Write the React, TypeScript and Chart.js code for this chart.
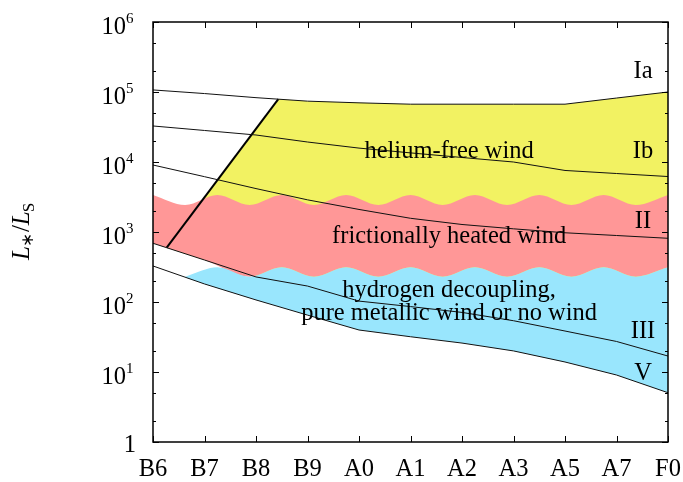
import { useEffect, useRef } from 'react';
import { Chart, registerables } from 'chart.js';

Chart.register(...registerables);

// Spectral types along the x axis (category index 0..10)
const categories = ['B6', 'B7', 'B8', 'B9', 'A0', 'A1', 'A2', 'A3', 'A5', 'A7', 'F0'];

// Luminosity tracks L*/LS for each luminosity class
const lumIa = [107000, 95000, 83000, 74000, 70000, 67000, 67000, 67000, 67000, 82000, 100000];
const lumIb = [32700, 28200, 24300, 19300, 15800, 13500, 11600, 10000, 7570, 6850, 6200];
const lumII = [9060, 6170, 4170, 2880, 2100, 1570, 1280, 1110, 975, 891, 813];
const lumIII = [690, 398, 228, 169, 103, 86, 71, 54, 38.5, 27.3, 16.9];
const lumV = [327, 181, 107, 65, 39.8, 31.9, 25.9, 20, 13.9, 9.06, 5.06];

// Left limit of the helium-free wind zone (thick line)
const heliumLimitX = [0.266, 2.433];
const heliumLimitY = [597, 79300];

// Wavy upper edge of the frictionally heated wind zone (crests / troughs)
const waveX = [0, 0.625, 1.25, 1.875, 2.5, 3.125, 3.75, 4.375, 5, 5.625, 6.25, 6.875, 7.5, 8.125, 8.75, 9.375, 10];
const frictionTop = [3380, 2430, 3380, 2430, 3380, 2430, 3380, 2430, 3380, 2430, 3380, 2430, 3380, 2430, 3380, 2430, 3380];

// Lower edge of the frictionally heated wind zone
const frictionBottomX = [0, 1, 1.875, 2.5, 3.125, 3.75, 4.375, 5, 5.625, 6.25, 6.875, 7.5, 8.125, 8.75, 9.375, 10];
const frictionBottom = [690, 398, 230, 313, 230, 313, 230, 313, 230, 313, 230, 313, 230, 313, 230, 313];

// Wavy upper edge of the hydrogen decoupling zone
const decouplingTopX = [0.625, 1.25, 1.875, 2.5, 3.125, 3.75, 4.375, 5, 5.625, 6.25, 6.875, 7.5, 8.125, 8.75, 9.375, 10];
const decouplingTop = [230, 313, 230, 313, 230, 313, 230, 313, 230, 313, 230, 313, 230, 313, 230, 313];

// Y-axis decade exponents
const yExponents = [0, 1, 2, 3, 4, 5, 6];

// Text annotations (x in category units, y in L*/LS at the baseline)
const regionLabels = ['helium-free wind', 'frictionally heated wind', 'hydrogen decoupling,', 'pure metallic wind or no wind'];
const regionLabelX = [5.75, 5.75, 5.75, 5.75];
const regionLabelY = [11400, 690, 118, 55.3];
const classLabels = ['Ia', 'Ib', 'II', 'III', 'V'];
const classLabelX = [9.515, 9.515, 9.515, 9.515, 9.515];
const classLabelY = [157000, 11400, 1130, 30.3, 7.69];

const YELLOW = 'rgb(242,242,98)';
const PINK = 'rgb(255,151,151)';
const BLUE = 'rgb(153,230,253)';
const SERIF = "'Liberation Serif', 'Times New Roman', serif";

const pts = (xs: number[], ys: number[]) => xs.map((xv, i) => ({ x: xv, y: ys[i] }));
const catIdx = categories.map((_, i) => i);

const decorPlugin = {
  id: 'decor',
  afterDatasetsDraw(chart: any) {
    const { ctx, chartArea: a, scales } = chart;
    const x = scales.x;
    const y = scales.y;
    ctx.save();
    ctx.strokeStyle = '#000';
    ctx.lineWidth = 1;
    ctx.beginPath();
    catIdx.forEach((i) => {
      const px = Math.round(x.getPixelForValue(i)) + 0.5;
      ctx.moveTo(px, a.bottom);
      ctx.lineTo(px, a.bottom - 6);
      ctx.moveTo(px, a.top);
      ctx.lineTo(px, a.top + 6);
    });
    yExponents.forEach((e) => {
      [1, 2, 5].forEach((m) => {
        const v = m * Math.pow(10, e);
        if (v > 1e6) return;
        const py = Math.round(y.getPixelForValue(v)) + 0.5;
        const len = m === 1 ? 6 : 3;
        ctx.moveTo(a.left, py);
        ctx.lineTo(a.left + len, py);
        ctx.moveTo(a.right, py);
        ctx.lineTo(a.right - len, py);
      });
    });
    ctx.stroke();
    ctx.lineWidth = 1.5;
    ctx.strokeRect(a.left, a.top, a.right - a.left, a.bottom - a.top);
    ctx.restore();
  },
  afterDraw(chart: any) {
    const { ctx, chartArea: a, scales } = chart;
    const x = scales.x;
    const y = scales.y;
    ctx.save();
    ctx.fillStyle = '#000';
    ctx.textBaseline = 'alphabetic';

    // x tick labels
    ctx.font = `24.5px ${SERIF}`;
    ctx.textAlign = 'center';
    categories.forEach((c, i) => {
      ctx.fillText(c, x.getPixelForValue(i), 476);
    });

    // y tick labels 10^n
    yExponents.forEach((e) => {
      const py = y.getPixelForValue(Math.pow(10, e));
      if (e === 0) {
        ctx.font = `24.5px ${SERIF}`;
        ctx.textAlign = 'right';
        ctx.fillText('1', a.left - 17, py + 10);
      } else {
        ctx.font = `24.5px ${SERIF}`;
        ctx.textAlign = 'right';
        ctx.fillText('10', a.left - 27, py + 11.5);
        ctx.font = `15px ${SERIF}`;
        ctx.textAlign = 'left';
        ctx.fillText(String(e), a.left - 27, py + 0.5);
      }
    });

    // region and class annotations
    ctx.font = `24.5px ${SERIF}`;
    ctx.textAlign = 'center';
    regionLabels.forEach((t, i) => {
      ctx.fillText(t, x.getPixelForValue(regionLabelX[i]), y.getPixelForValue(regionLabelY[i]));
    });
    classLabels.forEach((t, i) => {
      ctx.fillText(t, x.getPixelForValue(classLabelX[i]), y.getPixelForValue(classLabelY[i]));
    });

    // y axis title  L_* / L_S
    ctx.translate(29, 260);
    ctx.rotate(-Math.PI / 2);
    ctx.textAlign = 'left';
    let u = 0;
    ctx.font = `italic 25px ${SERIF}`;
    ctx.fillText('L', u, 0);
    u += ctx.measureText('L').width - 1;
    ctx.font = `17px ${SERIF}`;
    ctx.fillText('\u2217', u, 4);
    u += ctx.measureText('\u2217').width + 1;
    ctx.font = `25px ${SERIF}`;
    ctx.fillText('/', u, 0);
    u += ctx.measureText('/').width;
    ctx.font = `italic 25px ${SERIF}`;
    ctx.fillText('L', u, 0);
    u += ctx.measureText('L').width - 1;
    ctx.font = `17px ${SERIF}`;
    ctx.fillText('S', u, 5);
    ctx.restore();
  },
};

export default function App() {
  const canvasRef = useRef<HTMLCanvasElement | null>(null);

  useEffect(() => {
    const canvas = canvasRef.current;
    if (!canvas) return;
    const line = (data: number[], width = 1) => ({
      data: pts(catIdx, data),
      borderColor: '#111',
      borderWidth: width,
      pointRadius: 0,
      fill: false,
      order: 0,
    });
    const chart = new Chart(canvas, {
      type: 'line',
      data: {
        datasets: [
          line(lumIa), // 0
          line(lumIb), // 1
          line(lumII), // 2
          line(lumIII), // 3
          line(lumV), // 4
          {
            data: pts(heliumLimitX, heliumLimitY), // 5
            borderColor: '#000',
            borderWidth: 2,
            pointRadius: 0,
            fill: false,
            order: 0,
          },
          {
            // 6: helium-free wind zone
            data: pts([...heliumLimitX, ...catIdx.slice(3)], [...heliumLimitY, ...lumIa.slice(3)]),
            borderWidth: 0,
            borderColor: 'transparent',
            backgroundColor: YELLOW,
            pointRadius: 0,
            fill: 3,
            order: 30,
          },
          {
            // 7: frictionally heated wind zone (top edge)
            data: pts(waveX, frictionTop),
            borderWidth: 0,
            borderColor: 'transparent',
            backgroundColor: PINK,
            pointRadius: 0,
            cubicInterpolationMode: 'monotone',
            fill: 8,
            order: 20,
          },
          {
            // 8: frictionally heated wind zone (bottom edge)
            data: pts(frictionBottomX, frictionBottom),
            borderWidth: 0,
            borderColor: 'transparent',
            pointRadius: 0,
            cubicInterpolationMode: 'monotone',
            fill: false,
            order: 20,
          },
          {
            // 9: hydrogen decoupling zone
            data: pts(decouplingTopX, decouplingTop),
            borderWidth: 0,
            borderColor: 'transparent',
            backgroundColor: BLUE,
            pointRadius: 0,
            cubicInterpolationMode: 'monotone',
            fill: 4,
            order: 10,
          },
        ] as any,
      },
      options: {
        animation: false,
        responsive: false,
        devicePixelRatio: 1,
        layout: { padding: { left: 153, right: 15, top: 22, bottom: 40 } },
        plugins: {
          legend: { display: false },
          tooltip: { enabled: false },
        },
        events: [],
        scales: {
          x: { type: 'linear', min: 0, max: categories.length - 1, display: false },
          y: { type: 'logarithmic', min: 1, max: 1e6, display: false },
        },
      } as any,
      plugins: [decorPlugin],
    });
    return () => chart.destroy();
  }, []);

  return (
    <div style={{ position: 'fixed', left: 0, top: 0, width: 683, height: 482, background: '#fff' }}>
      <canvas ref={canvasRef} width={683} height={482} style={{ display: 'block', width: 683, height: 482 }} />
    </div>
  );
}
